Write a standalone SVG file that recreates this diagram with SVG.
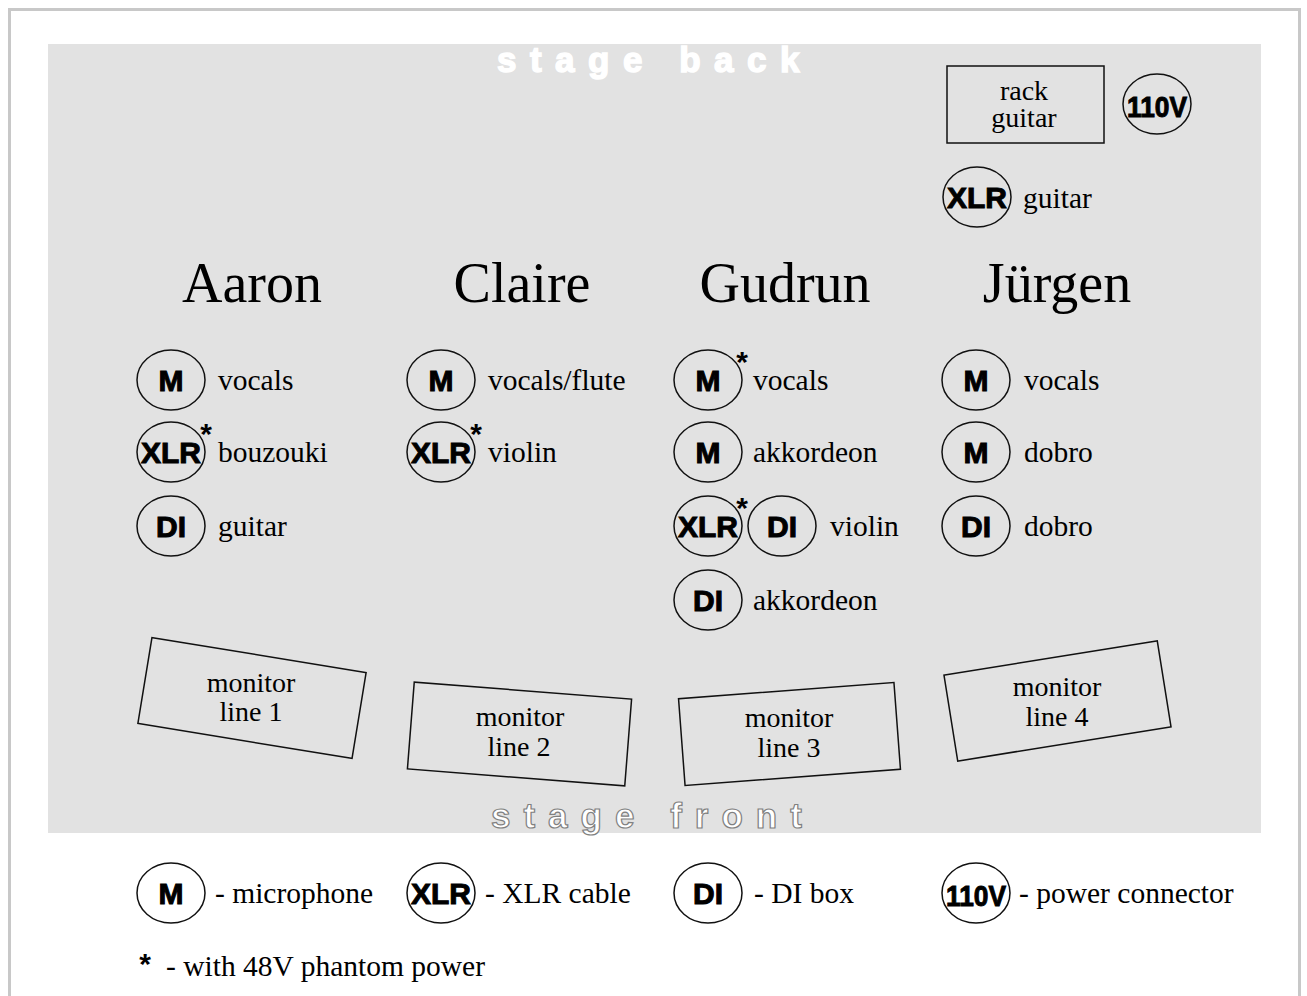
<svg xmlns="http://www.w3.org/2000/svg" width="1307" height="996" viewBox="0 0 1307 996">
<style>
.page{fill:#ffffff}
.border{fill:none;stroke:#c8c8c8;stroke-width:3}
.stage{fill:#e2e2e2}
.box{fill:none;stroke:#111;stroke-width:1.5}
.ell{fill:none;stroke:#111;stroke-width:1.5}
.sym{font-family:"Liberation Sans",Arial,sans-serif;font-weight:bold;font-size:30px;fill:#000;stroke:#000;stroke-width:1;text-anchor:middle}
.ast{font-family:"Liberation Sans",Arial,sans-serif;font-weight:bold;font-size:30px;fill:#000;text-anchor:middle}
.lbl{font-family:"Liberation Serif","Times New Roman",serif;font-size:29.5px;fill:#000}
.mon{font-family:"Liberation Serif","Times New Roman",serif;font-size:28px;fill:#000;text-anchor:middle}
.name{font-family:"Liberation Serif","Times New Roman",serif;font-size:56px;fill:#000;text-anchor:middle}
.back{font-family:"Liberation Sans",Arial,sans-serif;font-weight:bold;font-size:35px;fill:#ffffff;stroke:#ffffff;stroke-width:1.5;letter-spacing:13.5px}
.front{font-family:"Liberation Sans",Arial,sans-serif;font-weight:bold;font-size:35px;fill:#ffffff;stroke:#808080;stroke-width:1.2;letter-spacing:13px}
</style>
<rect class="page" x="0" y="0" width="1307" height="996"/>
<rect class="border" x="9.5" y="9.5" width="1290" height="1000"/>
<rect class="stage" x="48" y="44" width="1213" height="789"/>
<text class="back" x="497" y="72">stage back</text>
<text class="front" x="491" y="828">stage front</text>

<g id="names">
<text class="name" x="252" y="302">Aaron</text>
<text class="name" x="522" y="302">Claire</text>
<text class="name" x="785" y="302">Gudrun</text>
<text class="name" x="1057" y="302">Jürgen</text>
</g>

<g id="rack-guitar">
<rect class="box" x="947" y="66" width="157" height="77"/>
<text class="mon" x="1024" y="100" font-size="27">rack</text>
<text class="mon" x="1024" y="127" font-size="27">guitar</text>
</g>
<g id="power-110v">
<ellipse class="ell" cx="1157" cy="104" rx="34" ry="30"/>
<text class="sym" x="1157" y="117" font-size="36" textLength="60" lengthAdjust="spacingAndGlyphs">110V</text>
</g>
<g id="xlr-rack-guitar">
<ellipse class="ell" cx="977" cy="197" rx="34" ry="30"/>
<text class="sym" x="977" y="208">XLR</text>
<text class="lbl" x="1023" y="208">guitar</text>
</g>

<g id="aaron-m-vocals">
<ellipse class="ell" cx="171" cy="380" rx="34" ry="30"/>
<text class="sym" x="171" y="391">M</text>
<text class="lbl" x="218" y="390">vocals</text>
</g>
<g id="aaron-xlr-bouzouki">
<ellipse class="ell" cx="171" cy="452" rx="34" ry="30"/>
<text class="sym" x="171" y="463">XLR</text>
<text class="ast" x="206" y="444">*</text>
<text class="lbl" x="218" y="462">bouzouki</text>
</g>
<g id="aaron-di-guitar">
<ellipse class="ell" cx="171" cy="526" rx="34" ry="30"/>
<text class="sym" x="171" y="537">DI</text>
<text class="lbl" x="218" y="536">guitar</text>
</g>

<g id="claire-m-vocals">
<ellipse class="ell" cx="441" cy="380" rx="34" ry="30"/>
<text class="sym" x="441" y="391">M</text>
<text class="lbl" x="488" y="390">vocals/flute</text>
</g>
<g id="claire-xlr-violin">
<ellipse class="ell" cx="441" cy="452" rx="34" ry="30"/>
<text class="sym" x="441" y="463">XLR</text>
<text class="ast" x="476" y="444">*</text>
<text class="lbl" x="488" y="462">violin</text>
</g>

<g id="gudrun-m-vocals">
<ellipse class="ell" cx="708" cy="380" rx="34" ry="30"/>
<text class="sym" x="708" y="391">M</text>
<text class="ast" x="742" y="372">*</text>
<text class="lbl" x="753" y="390">vocals</text>
</g>
<g id="gudrun-m-akkordeon">
<ellipse class="ell" cx="708" cy="452" rx="34" ry="30"/>
<text class="sym" x="708" y="463">M</text>
<text class="lbl" x="753" y="462">akkordeon</text>
</g>
<g id="gudrun-xlr-di-violin">
<ellipse class="ell" cx="708" cy="526" rx="34" ry="30"/>
<text class="sym" x="708" y="537">XLR</text>
<text class="ast" x="742" y="518">*</text>
<ellipse class="ell" cx="782" cy="526" rx="34" ry="30"/>
<text class="sym" x="782" y="537">DI</text>
<text class="lbl" x="830" y="536">violin</text>
</g>
<g id="gudrun-di-akkordeon">
<ellipse class="ell" cx="708" cy="600" rx="34" ry="30"/>
<text class="sym" x="708" y="611">DI</text>
<text class="lbl" x="753" y="610">akkordeon</text>
</g>

<g id="jurgen-m-vocals">
<ellipse class="ell" cx="976" cy="380" rx="34" ry="30"/>
<text class="sym" x="976" y="391">M</text>
<text class="lbl" x="1024" y="390">vocals</text>
</g>
<g id="jurgen-m-dobro">
<ellipse class="ell" cx="976" cy="452" rx="34" ry="30"/>
<text class="sym" x="976" y="463">M</text>
<text class="lbl" x="1024" y="462">dobro</text>
</g>
<g id="jurgen-di-dobro">
<ellipse class="ell" cx="976" cy="526" rx="34" ry="30"/>
<text class="sym" x="976" y="537">DI</text>
<text class="lbl" x="1024" y="536">dobro</text>
</g>

<g id="monitor-1">
<rect class="box" x="-108.5" y="-43.5" width="217" height="87" transform="translate(252 698) rotate(9.3)"/>
<text class="mon" x="251" y="692">monitor</text>
<text class="mon" x="251" y="721">line 1</text>
</g>
<g id="monitor-2">
<rect class="box" x="-109" y="-43.5" width="218" height="87" transform="translate(519.5 734) rotate(4.5)"/>
<text class="mon" x="520" y="726">monitor</text>
<text class="mon" x="519" y="756">line 2</text>
</g>
<g id="monitor-3">
<rect class="box" x="-108" y="-43.5" width="216" height="87" transform="translate(789.5 734) rotate(-4.3)"/>
<text class="mon" x="789" y="727">monitor</text>
<text class="mon" x="789" y="757">line 3</text>
</g>
<g id="monitor-4">
<rect class="box" x="-108" y="-43.5" width="216" height="87" transform="translate(1057.5 701) rotate(-9.1)"/>
<text class="mon" x="1057" y="696">monitor</text>
<text class="mon" x="1057" y="726">line 4</text>
</g>

<g id="legend">
<ellipse class="ell" cx="171" cy="893" rx="34" ry="30"/>
<text class="sym" x="171" y="904">M</text>
<text class="lbl" x="215" y="903">- microphone</text>
<ellipse class="ell" cx="441" cy="893" rx="34" ry="30"/>
<text class="sym" x="441" y="904">XLR</text>
<text class="lbl" x="485" y="903">- XLR cable</text>
<ellipse class="ell" cx="708" cy="893" rx="34" ry="30"/>
<text class="sym" x="708" y="904">DI</text>
<text class="lbl" x="754" y="903">- DI box</text>
<ellipse class="ell" cx="976" cy="893" rx="34" ry="30"/>
<text class="sym" x="976" y="906" font-size="36" textLength="60" lengthAdjust="spacingAndGlyphs">110V</text>
<text class="lbl" x="1019" y="903">- power connector</text>
<text class="ast" x="145" y="974">*</text>
<text class="lbl" x="166" y="976">- with 48V phantom power</text>
</g>
<g id="connectors"></g>
</svg>
